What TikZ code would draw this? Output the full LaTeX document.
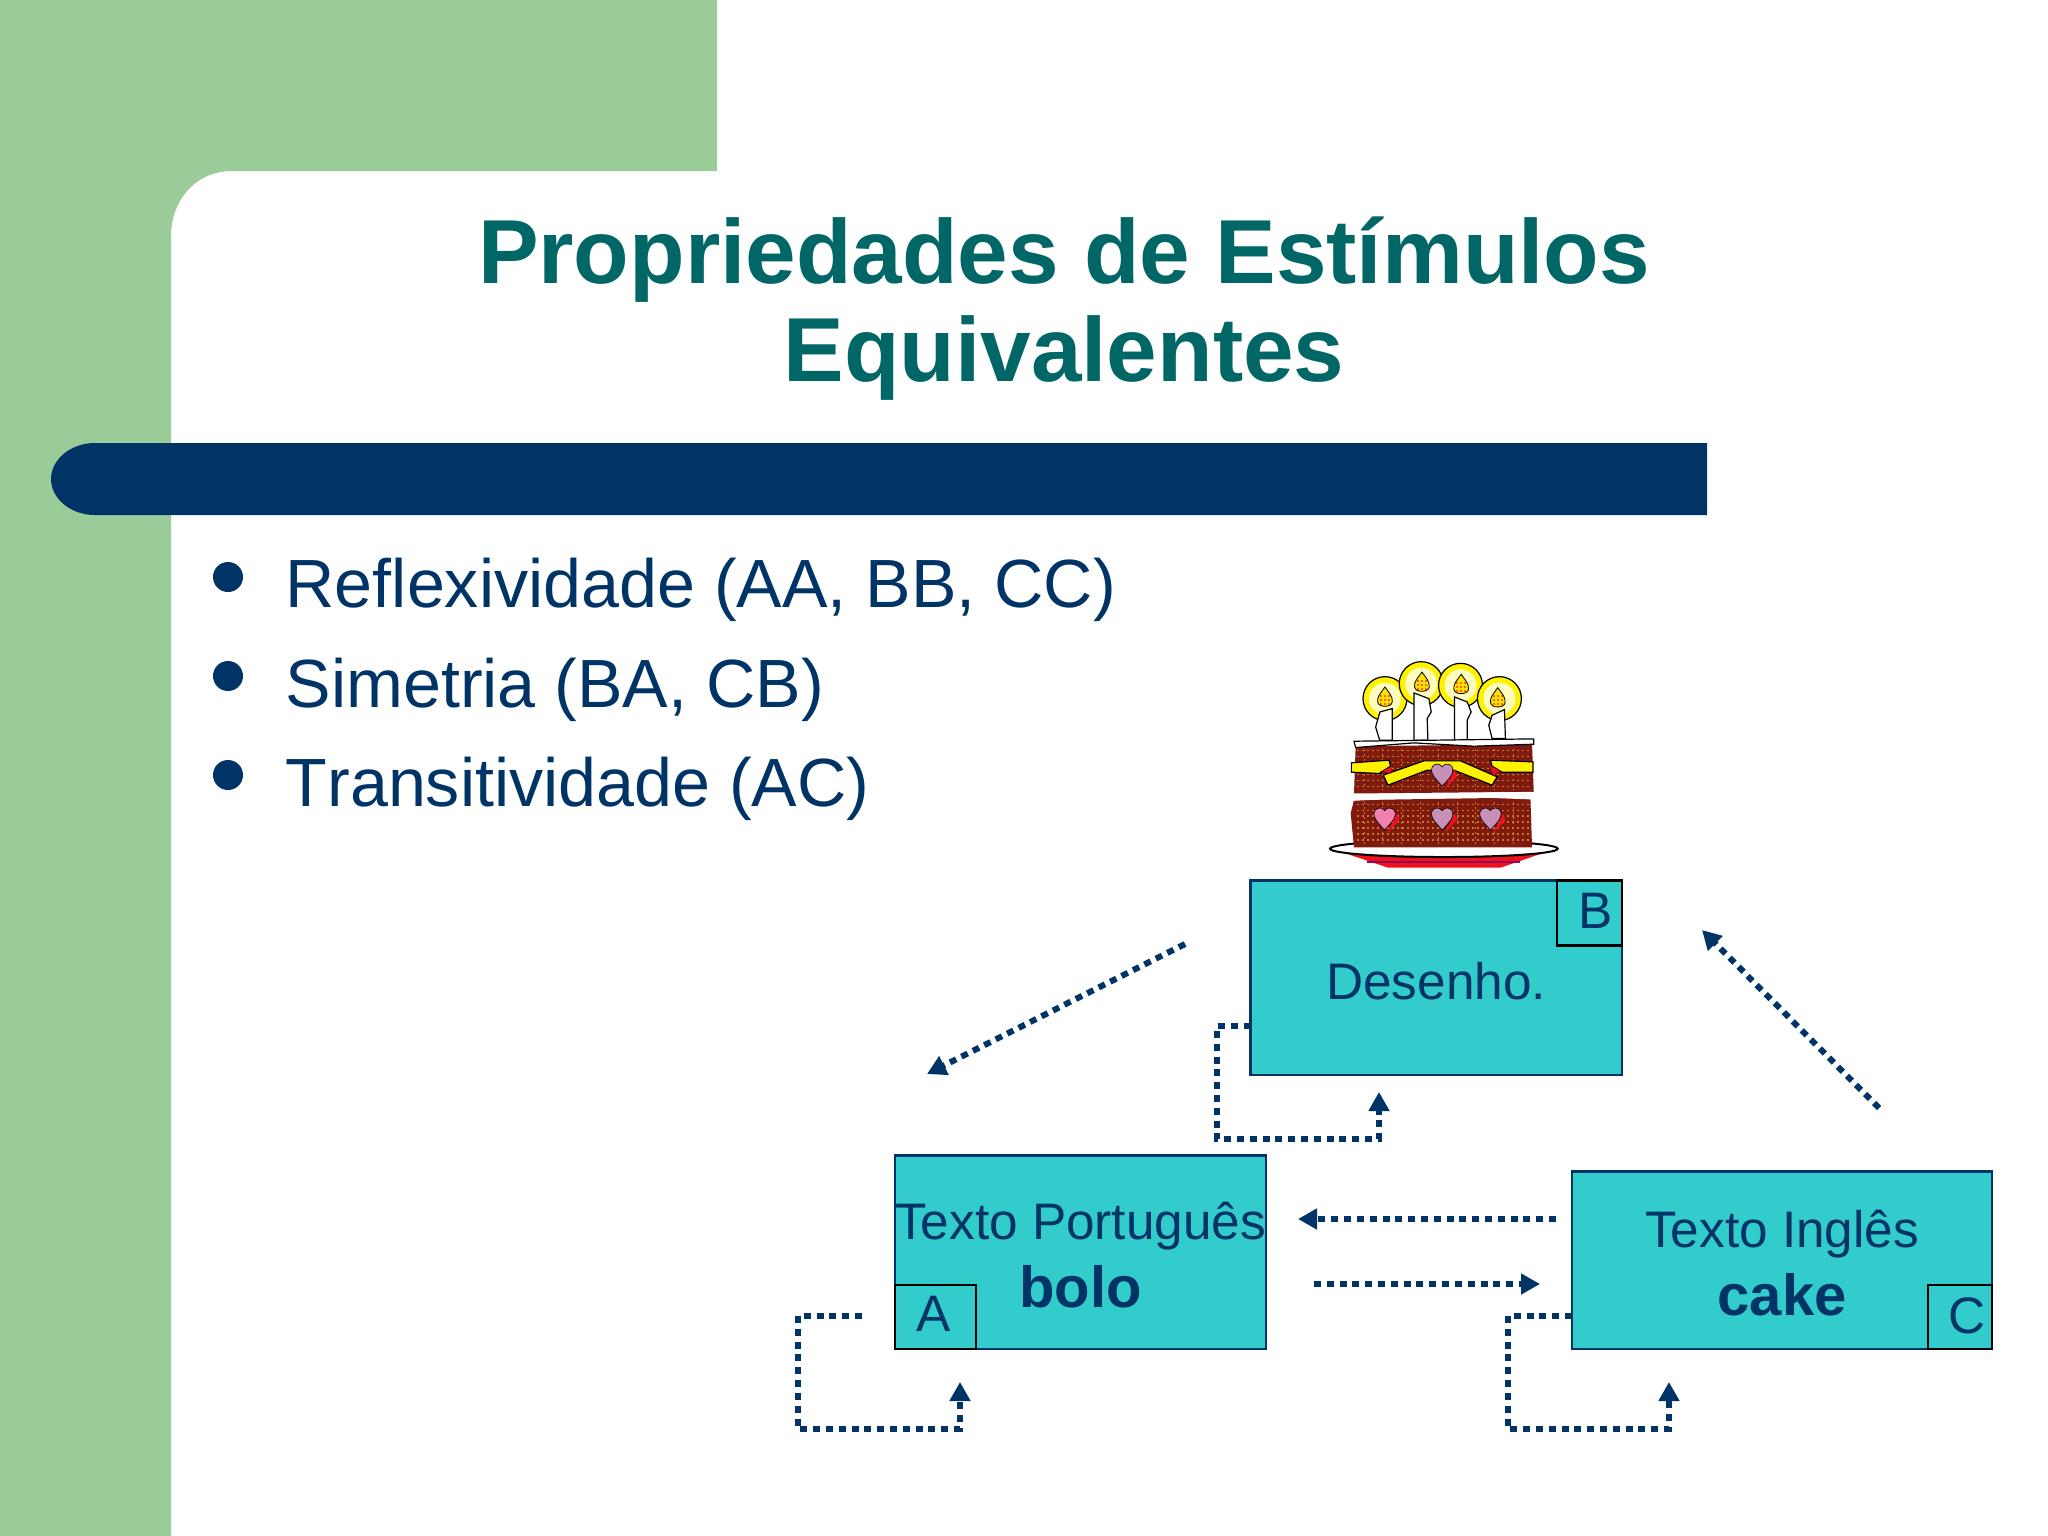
\documentclass[tikz,border=0pt]{standalone}
\usepackage{fontspec}
\setmainfont{Liberation Sans}
\usetikzlibrary{arrows.meta,calc}
\definecolor{sage}{HTML}{99CC99}
\definecolor{navy}{HTML}{003366}
\definecolor{titlegreen}{HTML}{006666}
\definecolor{teal}{HTML}{33CCCC}
\definecolor{crumb}{HTML}{7E1A0E}
\definecolor{crumbdot}{HTML}{C8782A}
\definecolor{heartpink}{HTML}{F080B0}
\definecolor{heartgrey}{HTML}{C890B8}
\definecolor{plate}{HTML}{F01020}
\newcommand\pushdown[2]{\raisebox{#1}{\vphantom{#2}}#2}
\tikzset{
 x=0.01cm,y=-0.01cm,
 card/.style={draw=navy,line width=0.022cm,fill=teal,text=navy,align=center,inner sep=0pt,outer sep=0pt,anchor=north west,font=\fontsize{14.6}{18}\selectfont},
 tagbox/.style={draw=black,line width=0.022cm,text=navy,inner sep=0pt,outer sep=0pt,font=\fontsize{14.6}{18}\selectfont},
 dotline/.style={draw=navy,line width=0.06cm,dash pattern=on 0.07cm off 0.058cm,-{Triangle[length=0.19cm,width=0.2cm]},line join=miter},
 bodytext/.style={text=navy,anchor=base west,inner sep=0pt,font=\fontsize{19.4}{23}\selectfont},
 dotbullet/.style={circle,fill=navy,inner sep=0pt,minimum size=0.3cm},
 candle/.style={fill=white,draw=black,line width=0.012cm},
 halo/.style={fill=yellow,draw=black,line width=0.012cm},
 flame/.style={fill=yellow!85!orange,draw=black,line width=0.008cm},
}
\begin{document}
\begin{tikzpicture}
\useasboundingbox (0,0) rectangle (2048,1536);
\fill[white] (0,0) rectangle (2048,1536);
% background
\fill[sage] (0,0) -- (717,0) -- (717,171) -- (232,171) .. controls (196,171) and (171,200) .. (171,236) -- (171,1536) -- (0,1536) -- cycle;
\fill[navy] (1707,443) -- (95,443) .. controls (70,443) and (51,460) .. (51,479) .. controls (51,498) and (70,515) .. (95,515) -- (1707,515) -- cycle;
% title
\node[text=titlegreen,align=center,inner sep=0pt,font=\fontsize{25.85}{27.9}\selectfont\bfseries] (title) at (1064,309) {Propriedades de Estímulos\\Equivalentes};
% bullets
\node[dotbullet] (b1) at (228,577) {};
\node[dotbullet] (b2) at (228,676) {};
\node[dotbullet] (b3) at (228,775) {};
\node[bodytext] (t1) at (285,607) {Reflexividade (AA, BB, CC)};
\node[bodytext] (t2) at (285,707) {Simetria (BA, CB)};
\node[bodytext] (t3) at (285,806) {\addfontfeatures{Kerning=Off}Transitividade (AC)};
% cards
\node[card,minimum width=3.71cm,minimum height=1.945cm] (desenho) at (1250.5,880.5) {\pushdown{0.066cm}{Desenho.}};
\node[tagbox,anchor=north east,minimum width=0.65cm,minimum height=0.65cm] (tagB) at (desenho.north east) {\raisebox{0.05cm}{\hspace*{0.12cm}B}};
\node[card,minimum width=3.71cm,minimum height=1.935cm] (port) at (895,1155.5) {\pushdown{0.052cm}{Texto Português}\\[0.05cm]{\fontsize{16.5}{18}\selectfont\bfseries bolo}};
\node[tagbox,anchor=south west,minimum width=0.81cm,minimum height=0.64cm] (tagA) at (port.south west) {\raisebox{0.06cm}{\hspace*{-0.04cm}A}};
\node[card,minimum width=4.20cm,minimum height=1.775cm] (ing) at (1572,1171.5) {\pushdown{0.05cm}{Texto Inglês}\\[0.05cm]{\fontsize{16.5}{18}\selectfont\bfseries cake}};
\node[tagbox,anchor=south east,minimum width=0.64cm,minimum height=0.64cm] (tagC) at (ing.south east) {\raisebox{0.04cm}{\hspace*{0.14cm}C}};
% connector ends
\coordinate (d1s) at (1185,944); \coordinate (d1e) at (927,1074);
\coordinate (d2s) at (1879,1108); \coordinate (d2e) at (1702,930);
\coordinate (h1s) at (1556,1219); \coordinate (h1e) at (1298,1219);
\coordinate (h2s) at (1314,1284); \coordinate (h2e) at (1540,1284);
\coordinate (la1) at (862,1316); \coordinate (la2) at (798,1316); \coordinate (la3) at (798,1429); \coordinate (la4) at (960,1429); \coordinate (la5) at (960,1382);
\coordinate (lb1) at (desenho.west |- 0,1026); \coordinate (lb2) at (1217,1026); \coordinate (lb3) at (1217,1139); \coordinate (lb4) at (1379,1139); \coordinate (lb5) at (1379,1092);
\coordinate (lc1) at (ing.west |- 0,1316); \coordinate (lc2) at (1508,1316); \coordinate (lc3) at (1508,1429); \coordinate (lc4) at (1669,1429); \coordinate (lc5) at (1669,1382);
\draw[dotline] (d1s) -- (d1e);
\draw[dotline] (d2s) -- (d2e);
\draw[dotline] (h1s) -- (h1e);
\draw[dotline] (h2s) -- (h2e);
\draw[dotline] (la1) -- (la2) -- (la3) -- (la4) -- (la5);
\draw[dotline] (lb1) -- (lb2) -- (lb3) -- (lb4) -- (lb5);
\draw[dotline] (lc1) -- (lc2) -- (lc3) -- (lc4) -- (lc5);
% cake, in units of a third of a pixel
\begin{scope}[shift={(13cm,-6.4cm)},x=0.003333cm,y=-0.003333cm]
 % halos
 \foreach \cx/\cy in {253/175,362/130,480/135,597/175}{
  \fill[halo] (\cx,\cy) circle (66);
  \fill[yellow!25!white] (\cx,\cy) circle (48);
 }
 % candles
 \filldraw[candle] (237,300) -- (225,260) -- (238,215) -- (275,205) -- (275,300) -- cycle;
 \filldraw[candle] (340,300) -- (340,158) -- (385,175) -- (392,215) -- (380,235) -- (382,300) -- cycle;
 \filldraw[candle] (462,300) -- (462,170) -- (500,185) -- (512,215) -- (500,240) -- (500,300) -- cycle;
 \filldraw[candle] (575,295) -- (565,255) -- (575,225) -- (612,208) -- (615,295) -- cycle;
 % flames
 \foreach \fx/\fy in {253/140,364/95,482/102,592/142}{
  \filldraw[flame] (\fx,\fy) .. controls (\fx+12,\fy+18) and (\fx+24,\fy+28) .. (\fx+22,\fy+45) .. controls (\fx+20,\fy+55) and (\fx+10,\fy+58) .. (\fx,\fy+58) .. controls (\fx-10,\fy+58) and (\fx-20,\fy+55) .. (\fx-22,\fy+45) .. controls (\fx-24,\fy+28) and (\fx-12,\fy+18) .. (\fx,\fy) -- cycle;
  \foreach \dx in {-12,0,12}{\foreach \dy in {26,38,50}{
   \fill[orange!80!red] (\fx+\dx-3,\fy+\dy-3) rectangle (\fx+\dx+3,\fy+\dy+3);
  }}
 }
 % plate
 \fill[plate] (135,640) -- (725,640) -- (600,683) -- (262,683) -- cycle;
 \fill[plate!70!blue!85!black] (200,662) rectangle (660,668);
 \filldraw[fill=white,draw=black,line width=0.02cm] (430,626) ellipse (342 and 25);
 % layers
 \fill[crumb] (160,480) -- (690,472) -- (695,622) -- (160,622) -- (150,520) -- cycle;
 \fill[crumb] (165,318) -- (695,312) -- (700,455) -- (160,460) -- cycle;
 \foreach \py in {332,350,...,450,492,510,...,612}{
  \draw[crumbdot,line width=0.012cm,dash pattern=on 0.02cm off 0.03cm] (168,\py) -- (690,\py);
 }
 \foreach \px in {190,246,...,680}{
  \draw[crumbdot,line width=0.008cm,dash pattern=on 0.02cm off 0.03cm] (\px,325) -- (\px,450);
  \draw[crumbdot,line width=0.008cm,dash pattern=on 0.02cm off 0.03cm] (\px,485) -- (\px,615);
 }
 \filldraw[fill=white,draw=black,line width=0.012cm] (160,303) -- (700,296) -- (700,312) -- (520,318) -- (340,308) -- (165,322) -- cycle;
 \fill[white] (155,465) -- (695,455) -- (695,478) -- (430,468) -- (160,482) -- cycle;
 % ribbon
 \filldraw[fill=yellow,draw=black,line width=0.012cm] (152,368) -- (265,360) -- (270,378) -- (235,400) -- (152,396) -- cycle;
 \filldraw[fill=yellow,draw=black,line width=0.012cm] (698,365) -- (570,360) -- (575,378) -- (605,396) -- (698,396) -- cycle;
 \filldraw[fill=yellow,draw=black,line width=0.012cm] (248,405) -- (370,362) -- (480,362) -- (590,410) -- (575,435) -- (460,390) -- (380,390) -- (262,435) -- cycle;
 \fill[plate] (248,392) -- (275,378) -- (268,400) -- cycle;
 \fill[plate] (570,378) -- (598,392) -- (578,402) -- cycle;
 % hearts
 \foreach \hx/\hy/\hc in {425/400/heartgrey,252/532/heartpink,425/532/heartgrey,570/532/heartgrey}{
  \fill[plate] (\hx+8,\hy+48) -- (\hx+45,\hy+8) -- (\hx+38,\hy-12) -- cycle;
  \filldraw[fill=\hc,draw=black,line width=0.006cm] (\hx,\hy+38) .. controls (\hx-20,\hy+15) and (\hx-38,\hy) .. (\hx-30,\hy-20) .. controls (\hx-22,\hy-32) and (\hx-6,\hy-30) .. (\hx,\hy-20) .. controls (\hx+6,\hy-30) and (\hx+22,\hy-32) .. (\hx+30,\hy-20) .. controls (\hx+38,\hy) and (\hx+20,\hy+15) .. (\hx,\hy+38) -- cycle;
 }
\end{scope}
\end{tikzpicture}
\end{document}
